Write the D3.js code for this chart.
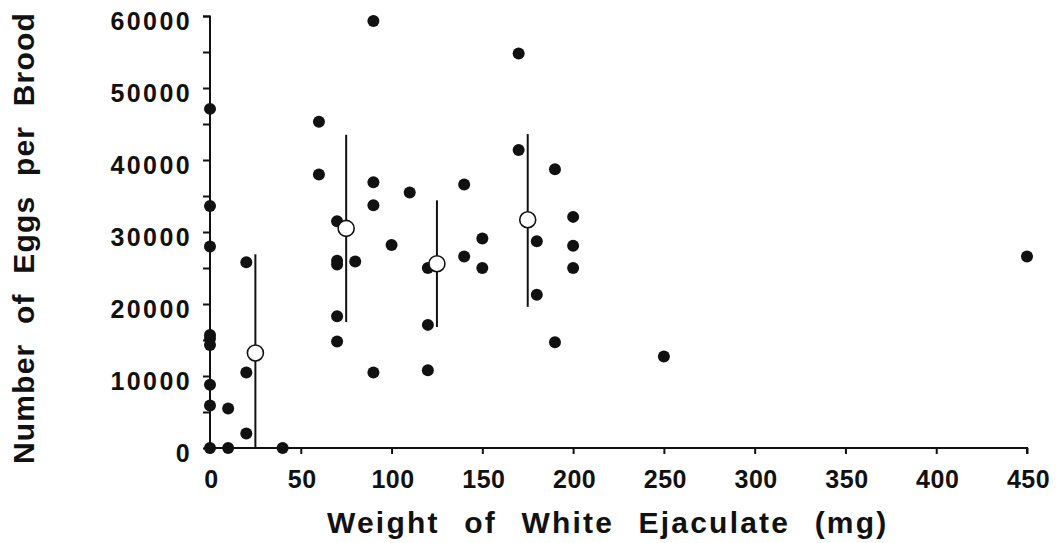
<!DOCTYPE html>
<html>
<head>
<meta charset="utf-8">
<script src="https://cdn.jsdelivr.net/npm/d3@7"></script>
<style>
  body { margin: 0; background: #fff; }
  text { font-family: "Liberation Sans", Arial, sans-serif; font-weight: bold; fill: #111; }
</style>
</head>
<body>
<div id="chart"></div>
<script>
// individual broods: ejaculate weight (mg) and eggs per brood
const pointX = [0, 0, 0, 0, 0, 0, 0, 0, 0,
                10, 10,
                20, 20, 20,
                40,
                60, 60,
                70, 70, 70, 70, 70,
                80,
                90, 90, 90, 90,
                100, 110,
                120, 120, 120,
                140, 140,
                150, 150,
                170, 170,
                180, 180,
                190, 190,
                200, 200, 200,
                250, 450];
const pointY = [47100, 33600, 28000, 15700, 15200, 14300, 8800, 5900, 0,
                5500, 0,
                25800, 10500, 2000,
                0,
                45300, 38000,
                31500, 26000, 25500, 18300, 14800,
                25900,
                59300, 36900, 33700, 10500,
                28200, 35500,
                25000, 17100, 10800,
                36600, 26600,
                29100, 25000,
                54800, 41400,
                28700, 21300,
                38700, 14700,
                32100, 28100, 25000,
                12700, 26600];

// group means with error bars
const meanX = [25, 75, 125, 175];
const meanY = [13200, 30500, 25600, 31700];
const errLow = [0, 17500, 16800, 19600];
const errHigh = [26900, 43500, 34400, 43600];

const xTicks = [0, 50, 100, 150, 200, 250, 300, 350, 400, 450];
const yTicks = [0, 10000, 20000, 30000, 40000, 50000, 60000];
const yMinorTicks = [5000, 15000, 25000, 35000, 45000, 55000];

const W = 1058, H = 543;
const margin = { top: 16, right: 31, bottom: 95, left: 210 };
const width = W - margin.left - margin.right,
      height = H - margin.top - margin.bottom;

const svg = d3.select("#chart")
    .append("svg")
    .attr("width", W)
    .attr("height", H)
    .style("background", "#fff");

const g = svg.append("g")
    .attr("transform", `translate(${margin.left},${margin.top})`);

const x = d3.scaleLinear().domain([0, 450]).range([0, width]);
const y = d3.scaleLinear().domain([0, 60000]).range([height, 0]);

// y axis: ticks every 5000, labels every 10000
const yAxis = g.append("g")
    .call(d3.axisLeft(y)
        .tickValues(yTicks.concat(yMinorTicks))
        .tickSize(7)
        .tickFormat(d => yTicks.includes(d) ? d : ""));
yAxis.select(".domain").attr("stroke", "#111").attr("stroke-width", 2).attr("d", `M-7,0.5H0V${height}`);
yAxis.selectAll(".tick line").attr("stroke", "#111").attr("stroke-width", 2);
yAxis.selectAll(".tick text")
    .attr("x", -18)
    .attr("dy", "0.52em")
    .style("font-size", "25px")
    .style("letter-spacing", "2.4px");

// x axis
const xAxis = g.append("g")
    .attr("transform", `translate(0,${height})`)
    .call(d3.axisBottom(x).tickValues(xTicks).tickSize(6).tickSizeOuter(0));
xAxis.select(".domain").attr("stroke", "#111").attr("stroke-width", 2).attr("d", `M0,0H${width}V6`);
xAxis.selectAll(".tick line").attr("stroke", "#111").attr("stroke-width", 2);
xAxis.selectAll(".tick text")
    .attr("y", 40)
    .attr("dy", 0)
    .attr("dx", 1)
    .style("font-size", "25px")
    .style("letter-spacing", "0.5px");

// axis titles
svg.append("text")
    .attr("x", 327)
    .attr("y", 533)
    .attr("text-anchor", "start")
    .style("font-size", "30px")
    .style("letter-spacing", "2.2px")
    .style("word-spacing", "14px")
    .text("Weight of White Ejaculate (mg)");

svg.append("text")
    .attr("transform", "translate(34,238) rotate(-90)")
    .attr("text-anchor", "middle")
    .style("font-size", "30px")
    .style("letter-spacing", "1.2px")
    .style("word-spacing", "10px")
    .text("Number of Eggs per Brood");

// individual points
g.selectAll(".dot")
    .data(pointX.map((d, i) => ({ x: d, y: pointY[i] })))
    .enter()
    .append("circle")
    .attr("class", "dot")
    .attr("cx", d => x(d.x))
    .attr("cy", d => y(d.y))
    .attr("r", 6)
    .attr("fill", "#111");

// error bars
const means = meanX.map((d, i) => ({ x: d, y: meanY[i], lo: errLow[i], hi: errHigh[i] }));
g.selectAll(".err")
    .data(means)
    .enter()
    .append("line")
    .attr("class", "err")
    .attr("x1", d => x(d.x))
    .attr("x2", d => x(d.x))
    .attr("y1", d => y(d.lo))
    .attr("y2", d => y(d.hi))
    .attr("stroke", "#111")
    .attr("stroke-width", 2);

// means as open circles
g.selectAll(".mean")
    .data(means)
    .enter()
    .append("circle")
    .attr("class", "mean")
    .attr("cx", d => x(d.x))
    .attr("cy", d => y(d.y))
    .attr("r", 8)
    .attr("fill", "#fff")
    .attr("stroke", "#111")
    .attr("stroke-width", 1.6);
</script>
</body>
</html>
